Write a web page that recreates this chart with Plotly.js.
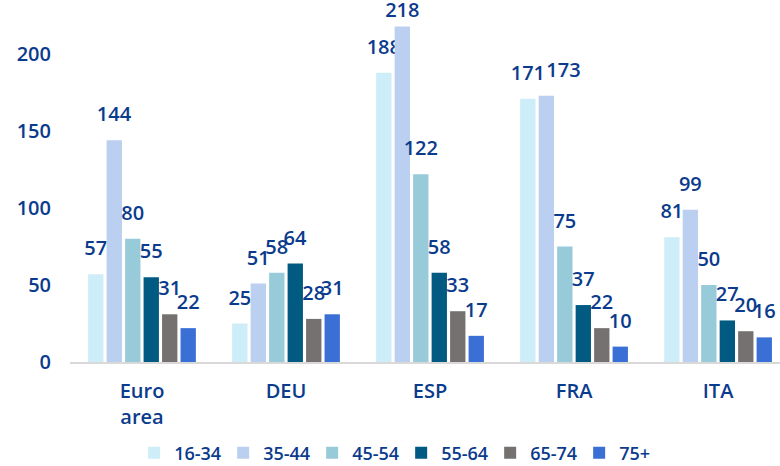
<!DOCTYPE html>
<html>
<head>
<meta charset="utf-8">
<script src="https://cdn.plot.ly/plotly-3.0.1.min.js"></script>
<style>html,body{margin:0;padding:0;background:#fff;}#chart{width:780px;height:466px;}</style>
</head>
<body>
<div id="chart"></div>
<script>
const categories = ["Euro area", "DEU", "ESP", "FRA", "ITA"];
const tickLabels = ["Euro<br>area", "DEU", "ESP", "FRA", "ITA"];
const seriesNames = ["16-34", "35-44", "45-54", "55-64", "65-74", "75+"];
const s1634 = [57, 25, 188, 171, 81];
const s3544 = [144, 51, 218, 173, 99];
const s4554 = [80, 58, 122, 75, 50];
const s5564 = [55, 64, 58, 37, 27];
const s6574 = [31, 28, 33, 22, 20];
const s75p  = [22, 31, 17, 10, 16];
const seriesValues = [s1634, s3544, s4554, s5564, s6574, s75p];
const colors = ["#CDEDF8", "#BBCFF0", "#98CBDA", "#005A82", "#767171", "#3A6FD6"];
const textColor = "#0B3B8C";
const font = "Open Sans, Noto Sans, sans-serif";
const fontWeight = 600;
const yMax = 230;

// label styling: normal labels sit higher above the bar (extra spacer line);
// labels that would leave the chart top are kept tight; one label nudged right as in the source
const normalTpl = '<span style="font-size:20px">%{y}</span><br>&nbsp;';
const tightTpl = '<span style="font-size:20px">%{y}</span>';
const nudged = {"1|FRA": true};

const traces = seriesNames.map((name, i) => ({
  type: "bar",
  name: name,
  x: categories,
  y: seriesValues[i],
  marker: {color: colors[i], line: {width: 0}},
  texttemplate: seriesValues[i].map((v, j) => {
    const lead = nudged[i + "|" + categories[j]] ? '<span style="font-size:20px;fill-opacity:0">000</span>' : '';
    return (v > yMax - 20 ? tightTpl : normalTpl).replace('<span style="font-size:20px">', lead + '<span style="font-size:20px">');
  }),
  textposition: "outside",
  constraintext: "none",
  cliponaxis: false,
  textfont: {size: 10, color: textColor, family: font, weight: fontWeight},
  hoverinfo: "skip"
}));

const layout = {
  width: 780, height: 466,
  margin: {l: 70, r: 0, t: 8, b: 104},
  paper_bgcolor: "#fff", plot_bgcolor: "#fff",
  barmode: "group",
  bargap: 0.23,
  bargroupgap: 0.17,
  font: {family: font, color: textColor, size: 20, weight: fontWeight},
  xaxis: {
    range: [-0.5, 4.43],
    tickmode: "array",
    tickvals: categories,
    ticktext: tickLabels,
    showgrid: false,
    showline: true, linecolor: "#D9D9D9", linewidth: 2,
    ticks: "",
    ticklabelstandoff: 10,
    tickfont: {size: 20, color: textColor, family: font, weight: fontWeight},
    fixedrange: true
  },
  yaxis: {
    range: [0, yMax],
    tickvals: [0, 50, 100, 150, 200],
    showgrid: false,
    zeroline: false,
    showline: false,
    ticks: "",
    ticklabelstandoff: 18,
    tickfont: {size: 20, color: textColor, family: font, weight: fontWeight},
    fixedrange: true
  },
  showlegend: true,
  legend: {
    orientation: "h",
    xref: "container", yref: "container",
    x: 0.172, xanchor: "left",
    y: 0.028, yanchor: "middle",
    entrywidth: 44, entrywidthmode: "pixels",
    font: {size: 18, color: textColor, family: font, weight: fontWeight},
    itemclick: false, itemdoubleclick: false,
    tracegroupgap: 0
  }
};

Plotly.newPlot("chart", traces, layout, {displayModeBar: false, staticPlot: true});
</script>
</body>
</html>
